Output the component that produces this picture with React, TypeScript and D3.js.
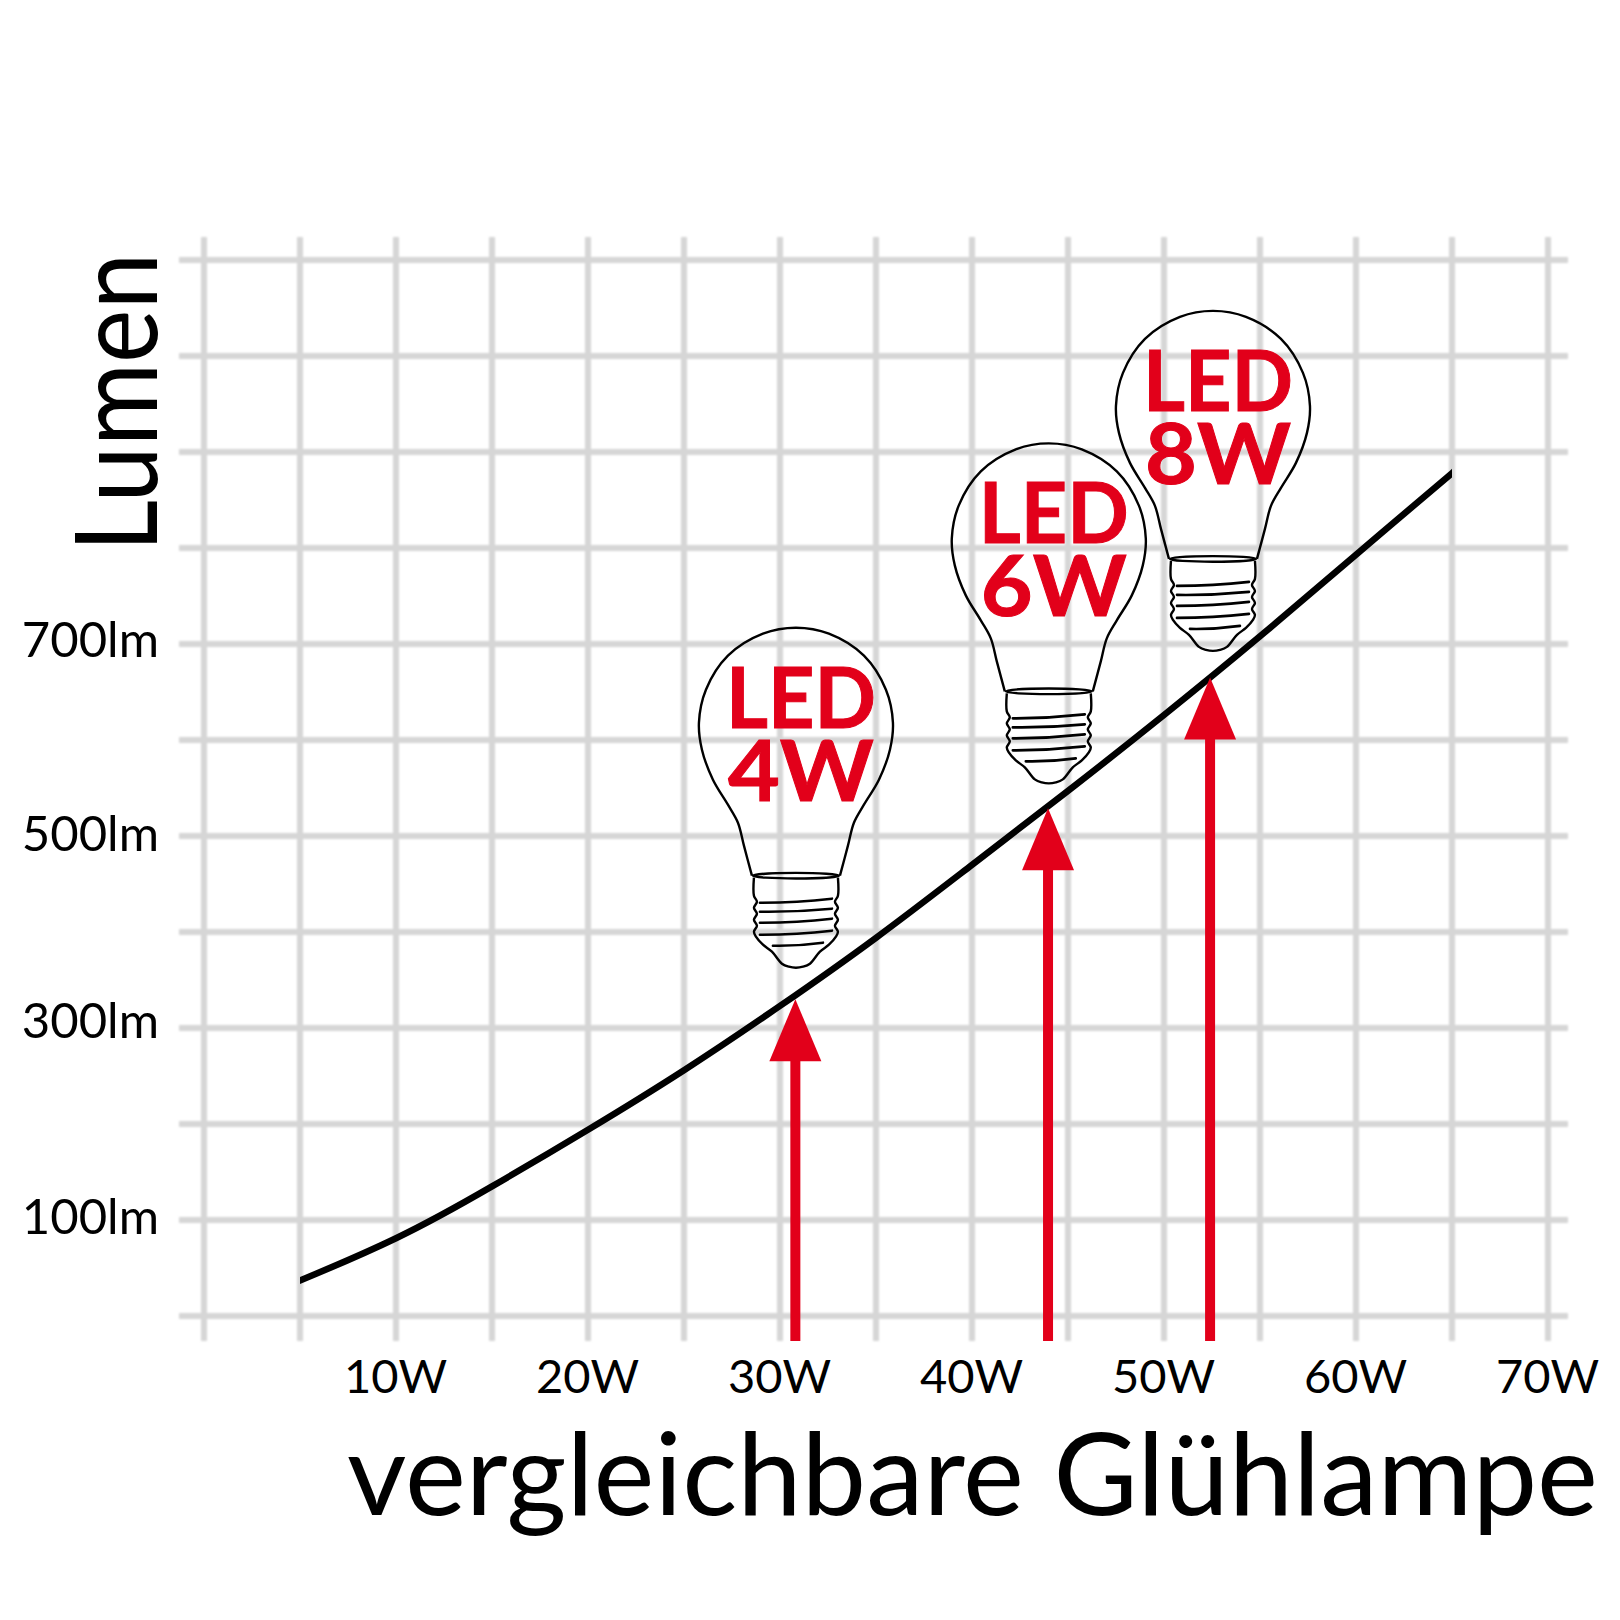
import React, { useEffect, useRef } from 'react'
import * as d3 from 'd3'

// incandescent equivalent (W) against lumen.
// first and last point run a little past the clip so the ends are cut straight
const curveWatts = [4, 5, 10, 15, 20, 25, 30, 35, 40, 45, 50, 55, 60, 65, 66]
const curveLumen = [29, 37, 81, 135, 194, 256, 323, 394, 470, 547, 626, 708, 793, 878, 895]

const gridWatts = [0, 5, 10, 15, 20, 25, 30, 35, 40, 45, 50, 55, 60, 65, 70]
const gridLumen = [0, 100, 200, 300, 400, 500, 600, 700, 800, 900, 1000, 1100]
const xTicks = [10, 20, 30, 40, 50, 60, 70]
const yTicks = [100, 300, 500, 700]

const ledLabels = ['4W', '6W', '8W']
const arrowWatts = [30.8, 43.96, 52.4]
const arrowLumen = [330, 529, 665]
const bulbWatts = [30.83, 44, 52.55]
const bulbLumen = [717, 909, 1047]

// bulb outline, one half, in the icon's own units (origin = top of the glass)
const glassHalf: [number, number][] = [[0, 0], [33, 6], [68, 28], [90, 62], [97, 95], [94, 122], [83, 152], [68, 177], [58, 195], [52, 218], [44, 248]]
const baseHalf: [number, number][] = [[42, 250], [42, 268], [39, 274], [42, 280], [39, 286], [42, 292], [39, 298], [42, 304], [40, 309], [33, 317], [24, 324], [14, 336], [7, 339], [0, 340]]
const threads: [number, number, number, number][] = [[-36, 275, 36, 271], [-36, 284, 36, 281], [-36, 295, 36, 291], [-36, 307, 36, 303], [-23, 318, 27, 315]]

const RED = '#e2001a'
const FONT = 'Lato, sans-serif'

export default function App() {
  const ref = useRef<SVGSVGElement | null>(null)

  useEffect(() => {
    const svg = d3.select(ref.current!)
    svg.selectAll('*').remove()

    const x = d3.scaleLinear().domain([0, 70]).range([204, 1548])
    const y = d3.scaleLinear().domain([0, 1100]).range([1316, 260])
    const top = 237, bottom = 1341, left = 179, right = 1568

    const defs = svg.append('defs')
    defs.append('filter').attr('id', 'soft').append('feGaussianBlur').attr('stdDeviation', 0.8)
    defs.append('clipPath').attr('id', 'curve-clip').append('rect')
      .attr('x', x(5)).attr('width', x(65) - x(5)).attr('y', 0).attr('height', 1620)

    const grid = svg.append('g').attr('stroke', '#d6d6d6').attr('stroke-width', 6).attr('filter', 'url(#soft)')
    grid.selectAll('.h').data(gridLumen).enter().append('line')
      .attr('x1', left).attr('x2', right).attr('y1', d => y(d)).attr('y2', d => y(d))
    grid.selectAll('.v').data(gridWatts).enter().append('line')
      .attr('x1', d => x(d)).attr('x2', d => x(d)).attr('y1', top).attr('y2', bottom)

    // tick labels
    const xAxis = svg.append('g').attr('transform', 'translate(-1,1341)')
      .call(d3.axisBottom(x).tickValues(xTicks).tickSize(0).tickPadding(19).tickFormat(d => `${d}W`))
    const yAxis = svg.append('g').attr('transform', 'translate(159,0)')
      .call(d3.axisLeft(y).tickValues(yTicks).tickSize(0).tickPadding(0).tickFormat(d => `${d}lm`))
    for (const a of [xAxis, yAxis]) {
      a.select('.domain').remove()
      a.attr('font-family', FONT)
      a.selectAll('text').attr('fill', '#000')
    }
    xAxis.attr('font-size', 47)
    yAxis.attr('font-size', 49)
    // the source nudges each lumen label a bit differently
    const nudge: Record<number, number> = { 100: 13, 300: 9, 500: 14, 700: 12 }
    yAxis.selectAll<SVGTextElement, number>('text').attr('dy', d => nudge[d])

    // curve
    const line = d3.line<number>().x(d => x(d)).y((_, i) => y(curveLumen[i])).curve(d3.curveNatural)
    svg.append('path').datum(curveWatts).attr('d', line).attr('fill', 'none').attr('stroke', '#000')
      .attr('stroke-width', 6.5).attr('clip-path', 'url(#curve-clip)')

    // red arrows up to the curve
    const arrows = svg.append('g').attr('fill', RED)
    arrowWatts.forEach((w, i) => {
      const ax = x(w), tip = y(arrowLumen[i])
      arrows.append('rect').attr('x', ax - 5).attr('width', 10).attr('y', tip + 50).attr('height', bottom - tip - 50)
      const head = d3.path()
      head.moveTo(ax, tip)
      head.lineTo(ax + 26, tip + 62)
      head.lineTo(ax - 26, tip + 62)
      head.closePath()
      arrows.append('path').attr('d', head.toString())
    })

    // bulbs
    const smooth = d3.line().curve(d3.curveCatmullRom.alpha(0.5))
    const over = (pts: [number, number][]) => [...pts.slice().reverse().map(([a, b]) => [-a, b] as [number, number]), ...pts.slice(1)]
    const under = (pts: [number, number][]) => [...pts.map(([a, b]) => [-a, b] as [number, number]), ...pts.slice(0, -1).reverse()]

    bulbWatts.forEach((w, i) => {
      const b = svg.append('g').attr('transform', `translate(${x(w)},${y(bulbLumen[i])})`)
        .attr('fill', 'none').attr('stroke', '#000').attr('stroke-width', 2.4)
      b.append('path').attr('d', smooth(over(glassHalf)))
      b.append('ellipse').attr('cx', 0).attr('cy', 248).attr('rx', 43).attr('ry', 2.8)
      b.append('path').attr('d', smooth(under(baseHalf))).attr('stroke-linejoin', 'round')
      b.selectAll('.t').data(threads).enter().append('path')
        .attr('d', d => `M${d[0]},${d[1]}Q${(d[0] + d[2]) / 2},${(d[1] + d[3]) / 2 + 2} ${d[2]},${d[3]}`)
        .attr('stroke-width', 2.6).attr('stroke-linecap', 'round')
      const label = b.append('g').attr('fill', RED).attr('stroke', RED).attr('stroke-width', 1).attr('font-family', FONT)
        .attr('font-weight', 700).attr('font-size', 85).attr('text-anchor', 'middle')
      label.append('text').attr('x', 5).attr('y', 100).attr('textLength', 150).attr('lengthAdjust', 'spacingAndGlyphs').text('LED')
      label.append('text').attr('x', 5).attr('y', 173).attr('textLength', 146).attr('lengthAdjust', 'spacingAndGlyphs').text(ledLabels[i])
    })

    // axis titles
    svg.append('text').attr('x', 347).attr('y', 1515).attr('font-family', FONT).attr('font-size', 114)
      .attr('textLength', 1251).attr('lengthAdjust', 'spacingAndGlyphs').attr('fill', '#000').text('vergleichbare Glühlampe')
    svg.append('text').attr('transform', 'translate(157,552) rotate(-90)').attr('font-family', FONT).attr('font-size', 114)
      .attr('textLength', 299).attr('lengthAdjust', 'spacingAndGlyphs').attr('fill', '#000').text('Lumen')
  }, [])

  return <svg ref={ref} width={1620} height={1620} style={{ position: 'absolute', left: 0, top: 0, background: '#fff' }} />
}
